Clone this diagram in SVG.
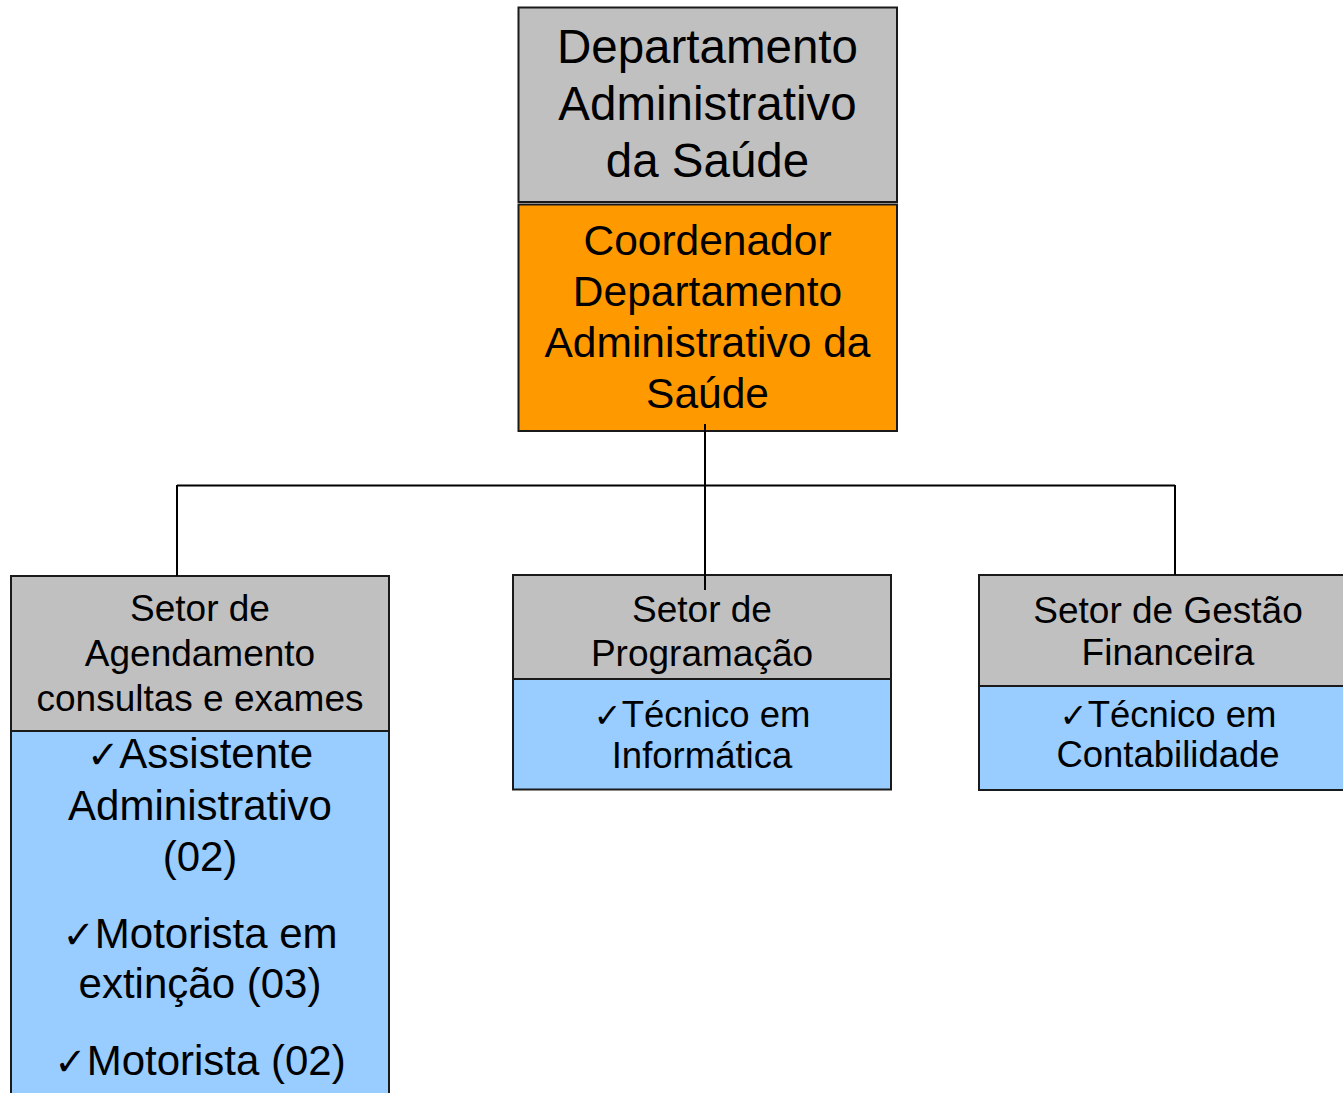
<svg xmlns="http://www.w3.org/2000/svg" width="1343" height="1093" viewBox="0 0 1343 1093">
<style>
.box{stroke:#1a1a1a;stroke-width:2}
.gray{fill:#C0C0C0}
.orange{fill:#FF9900}
.blue{fill:#99CCFF}
text{font-family:"Liberation Sans",Arial,sans-serif;fill:#000;text-anchor:middle}
.ck{font-family:"DejaVu Sans",sans-serif;font-size:0.92em}
.conn{stroke:#000;stroke-width:2;fill:none}
</style>
<rect width="1343" height="1093" fill="#fff"/>
<g id="dept">
<rect class="box gray" x="518.5" y="7.5" width="378.5" height="194.5"/>
<text font-size="47.5"><tspan x="707.5" y="63">Departamento</tspan><tspan x="707.5" y="120">Administrativo</tspan><tspan x="707.5" y="177">da Saúde</tspan></text>
</g>
<g id="coord">
<rect class="box orange" x="518.5" y="204.5" width="378.5" height="226.5"/>
<text font-size="42.5"><tspan x="707.5" y="255">Coordenador</tspan><tspan x="707.5" y="306">Departamento</tspan><tspan x="707.5" y="357">Administrativo da</tspan><tspan x="707.5" y="408">Saúde</tspan></text>
</g>
<g id="agendamento">
<rect class="box blue" x="11" y="731" width="378" height="370"/>
<rect class="box gray" x="11" y="576" width="378" height="155"/>
<text font-size="37"><tspan x="200" y="621">Setor de</tspan><tspan x="200" y="666">Agendamento</tspan><tspan x="200" y="711">consultas e exames</tspan></text>
<text font-size="42"><tspan x="200" y="768"><tspan class="ck">✓</tspan>Assistente</tspan><tspan x="200" y="820">Administrativo</tspan><tspan x="200" y="871">(02)</tspan><tspan x="200" y="948"><tspan class="ck">✓</tspan>Motorista em</tspan><tspan x="200" y="998">extinção (03)</tspan><tspan x="200" y="1075"><tspan class="ck">✓</tspan>Motorista (02)</tspan></text>
</g>
<g id="programacao">
<rect class="box gray" x="513" y="575" width="378" height="104"/>
<rect class="box blue" x="513" y="679" width="378" height="110.5"/>
<text font-size="37"><tspan x="702" y="621.5">Setor de</tspan><tspan x="702" y="666">Programação</tspan></text>
<text font-size="36.5"><tspan x="702" y="726.5"><tspan class="ck">✓</tspan>Técnico em</tspan><tspan x="702" y="768">Informática</tspan></text>
</g>
<g id="gestao">
<rect class="box gray" x="979" y="575" width="370" height="111"/>
<rect class="box blue" x="979" y="686" width="370" height="104"/>
<text font-size="37"><tspan x="1168" y="623">Setor de Gestão</tspan><tspan x="1168" y="665">Financeira</tspan></text>
<text font-size="36.5"><tspan x="1168" y="726.5"><tspan class="ck">✓</tspan>Técnico em</tspan><tspan x="1168" y="767">Contabilidade</tspan></text>
</g>
<g id="connectors">
<line class="conn" x1="705" y1="424" x2="705" y2="590"/>
<line class="conn" x1="177" y1="485.5" x2="1175" y2="485.5" stroke-width="2.5"/>
<line class="conn" x1="177" y1="485" x2="177" y2="576"/>
<line class="conn" x1="1175" y1="485" x2="1175" y2="575"/>
</g>
</svg>
